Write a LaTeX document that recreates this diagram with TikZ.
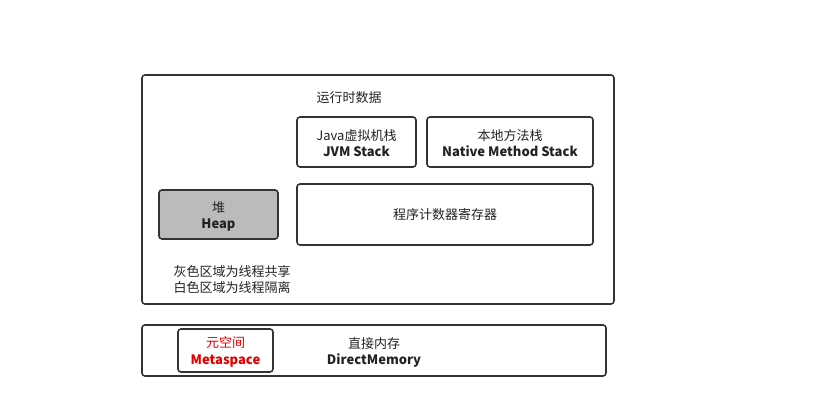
\documentclass[tikz,border=0pt]{standalone}
\usepackage{fontspec}
\setmainfont{Noto Sans CJK SC}
\definecolor{edge}{HTML}{333333}
\definecolor{heapfill}{HTML}{BBBBBB}
\definecolor{txt}{HTML}{222222}
\definecolor{metared}{HTML}{E00000}
\begin{document}
\begin{tikzpicture}[x=1pt,y=-1pt,
  box/.style={draw=edge,line width=1.6pt,rounded corners=3pt},
  lbl/.style={text=txt,font=\fontsize{13}{16.5}\selectfont,align=center,inner sep=0pt}]
\useasboundingbox (0,0) rectangle (831,401);
\draw[box] (142,75) rectangle (614,304);
\draw[box] (142,325) rectangle (606,376);
\draw[box] (297,117) rectangle (416,167);
\draw[box] (427,117) rectangle (593,167);
\draw[box] (297,184) rectangle (593,245);
\draw[box,fill=heapfill] (159,190) rectangle (278,239);
\draw[box] (178,329) rectangle (273,372);
\node[lbl] (title) at (349,98) {运行时数据};
\node[lbl] (jvm) at (356.5,143) {Java虚拟机栈\\\bfseries JVM Stack};
\node[lbl] (native) at (510,143) {本地方法栈\\\bfseries Native Method Stack};
\node[lbl] (pc) at (445,215) {程序计数器寄存器};
\node[lbl] (heap) at (218.5,216.5) {堆\\\bfseries Heap};
\node[lbl] (note) at (232,279.5) {灰色区域为线程共享\\白色区域为线程隔离};
\node[lbl,text=metared] (meta) at (225.5,352) {元空间\\\bfseries Metaspace};
\node[lbl] (direct) at (374,352.5) {直接内存\\\bfseries DirectMemory};
\end{tikzpicture}
\end{document}
